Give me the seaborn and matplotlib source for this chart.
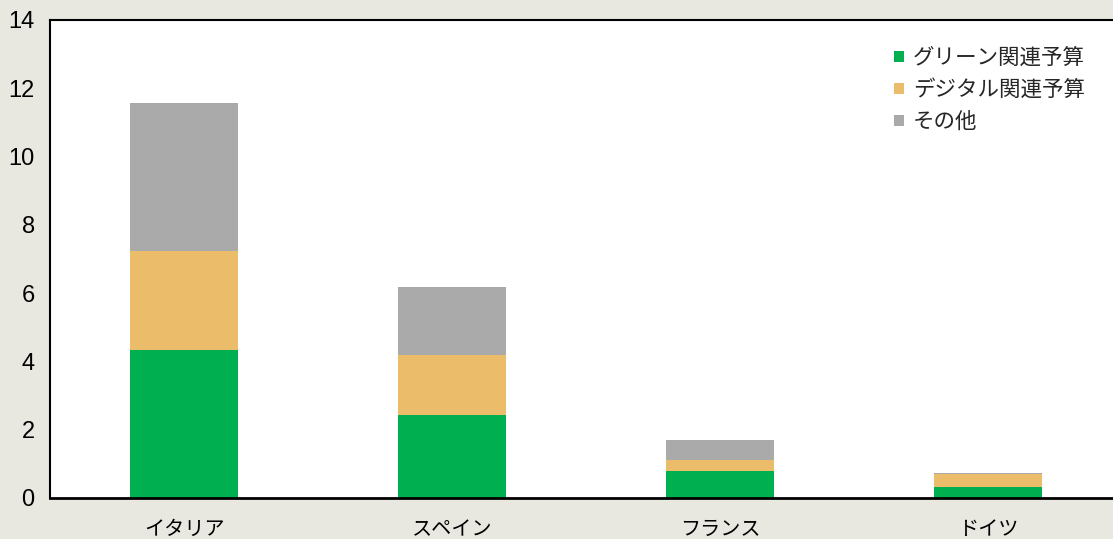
import matplotlib
matplotlib.use("Agg")
import matplotlib.pyplot as plt
import seaborn as sns
import pandas as pd
import numpy as np
from matplotlib.patches import Patch

countries = ["イタリア", "スペイン", "フランス", "ドイツ"]
green = [4.34, 2.43, 0.80, 0.31]
digital = [2.90, 1.76, 0.32, 0.39]
other = [4.34, 2.00, 0.58, 0.04]
series_names = ["グリーン関連予算", "デジタル関連予算", "その他"]
colors = ["#00b050", "#ebbd6b", "#aaaaaa"]
yticks = [0, 2, 4, 6, 8, 10, 12, 14]

sns.set_theme(style="white")
plt.rcParams['font.family'] = ['Noto Sans CJK JP', 'DejaVu Sans']

bg = "#e8e8e1"
fig = plt.figure(figsize=(11.13, 5.39), dpi=100, facecolor=bg)
W, H = 1113, 539
left, right, top, bottom = 50, 1113, 20, 498
ax = fig.add_axes([left / W, 1 - bottom / H, (right - left) / W, (bottom - top) / H])
ax.set_facecolor("white")

g = np.array(green)
d = np.array(digital)
o = np.array(other)
df = pd.DataFrame({
    "country": countries,
    "total": g + d + o,
    "gd": g + d,
    "g": g,
})

for col, c in zip(["total", "gd", "g"], [colors[2], colors[1], colors[0]]):
    sns.barplot(data=df, x="country", y=col, color=c, width=0.4,
                saturation=1, ax=ax, linewidth=0, order=countries)

ax.set_ylim(0, 14)
ax.set_xlim(-0.5, -0.5 + (right - left) / 268)
ax.set_yticks(yticks)
ax.set_yticklabels([str(v) for v in yticks], fontsize=17, family=['Liberation Sans', 'DejaVu Sans'])
ax.set_xlabel("")
ax.set_ylabel("")

ax.set_xticks(range(len(countries)))
ax.set_xticklabels(countries, fontsize=14.5)
ax.tick_params(axis="x", length=0, pad=15, colors="black")
ax.set_xticks([0.5, 1.5, 2.5], minor=True)
ax.tick_params(axis="x", which="minor", direction="in", length=6, width=1, color="black")
ax.tick_params(axis="y", direction="out", length=5, width=1, color="black", pad=6, labelcolor="black")

for s in ["left", "bottom", "top"]:
    ax.spines[s].set_visible(True)
    ax.spines[s].set_color("black")
ax.spines["left"].set_linewidth(1.5)
ax.spines["bottom"].set_linewidth(2)
ax.spines["top"].set_linewidth(1.5)
ax.spines["right"].set_visible(False)

handles = [Patch(facecolor=c, edgecolor="none") for c in colors]
leg = ax.legend(handles, series_names, loc="upper left", bbox_to_anchor=(0.794, 0.943),
                frameon=False, fontsize=15.5, handlelength=0.46, handleheight=0.46,
                handletextpad=0.42, labelspacing=0.46, borderpad=0, borderaxespad=0)

fig.savefig("out.png", dpi=100, facecolor=bg)
